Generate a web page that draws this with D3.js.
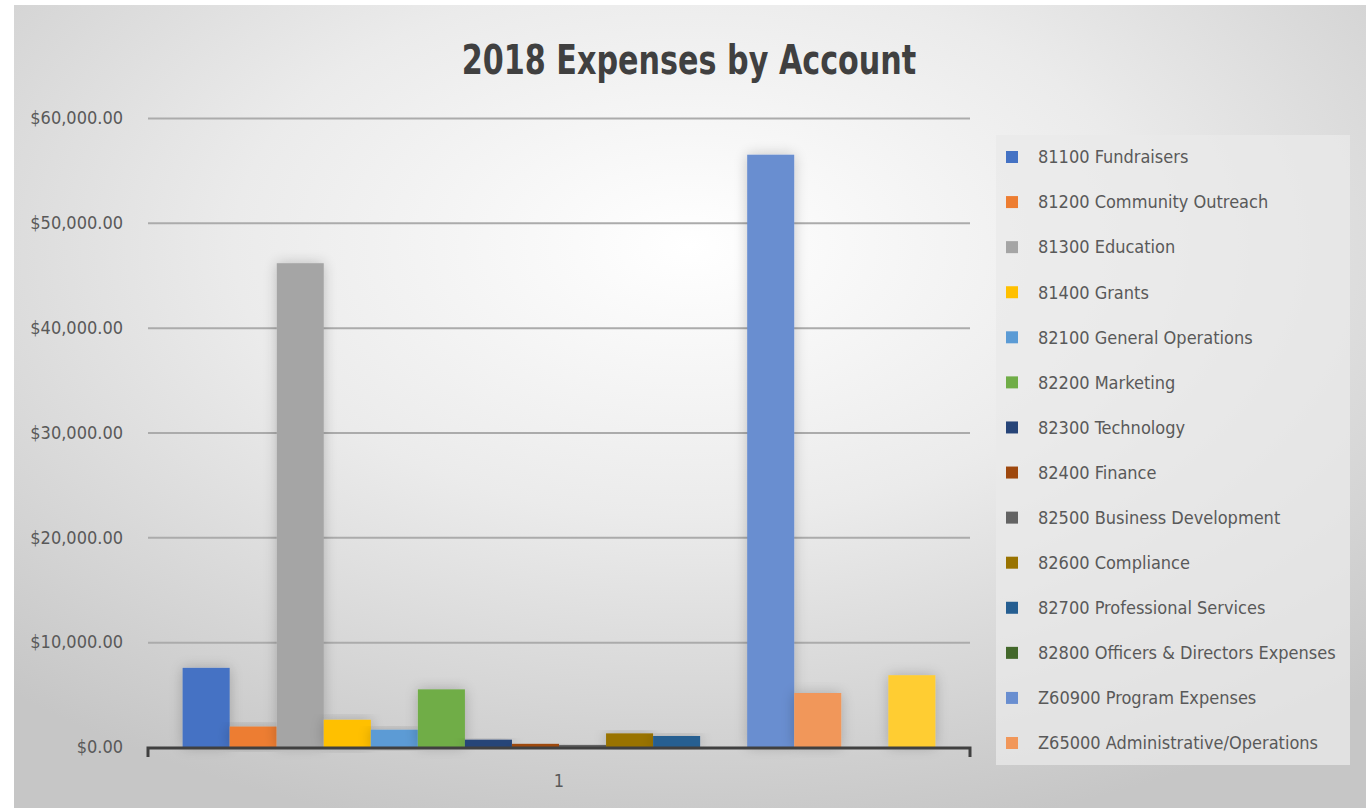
<!DOCTYPE html>
<html>
<head>
<meta charset="utf-8">
<script src="https://cdn.jsdelivr.net/npm/d3@7"></script>
<style>
  html, body { margin: 0; padding: 0; background: #ffffff; }
  svg { display: block; }
  text { font-family: "Liberation Sans Narrow", "DejaVu Sans Condensed", "Open Sans", sans-serif; }
</style>
</head>
<body>
<svg id="chart" width="1368" height="808"></svg>
<script>
// ---- data ----
const title = "2018 Expenses by Account";
const categories = ["1"];
const seriesNames = [
  "81100 Fundraisers",
  "81200 Community Outreach",
  "81300 Education",
  "81400 Grants",
  "82100 General Operations",
  "82200 Marketing",
  "82300 Technology",
  "82400 Finance",
  "82500 Business Development",
  "82600 Compliance",
  "82700 Professional Services",
  "82800 Officers & Directors Expenses",
  "Z60900 Program Expenses",
  "Z65000 Administrative/Operations",
  "",   // series 15 (legend entry cut off in the original)
  ""    // series 16 (legend entry cut off in the original)
];
const seriesValues = [7550, 1950, 46150, 2600, 1650, 5500, 700, 300, 200, 1300, 1050, 0, 56500, 5150, 0, 6850];
const seriesColors = ["#4472c4", "#ed7d31", "#a5a5a5", "#ffc000", "#5b9bd5", "#70ad47",
                      "#264478", "#9e480e", "#636363", "#997300", "#255e91", "#43682b",
                      "#698ed0", "#f1975a", "#b7b7b7", "#ffcd33"];
const yTicks = [0, 10000, 20000, 30000, 40000, 50000, 60000];
const legendCount = 14;

// ---- layout ----
const svg = d3.select("#chart");
const area = { x: 14, y: 5, w: 1352, h: 803 };
const plot = { left: 148, right: 970, top: 118, bottom: 747 };

const defs = svg.append("defs");
const grad = defs.append("radialGradient").attr("id", "bg")
  .attr("cx", "0.5").attr("cy", "0.3").attr("r", "0.75");
grad.append("stop").attr("offset", "0%").attr("stop-color", "#ffffff");
grad.append("stop").attr("offset", "45%").attr("stop-color", "#ebebeb");
grad.append("stop").attr("offset", "100%").attr("stop-color", "#c6c6c6");

const shadow = defs.append("filter").attr("id", "shadow")
  .attr("x", "-50%").attr("y", "-20%").attr("width", "200%").attr("height", "140%");
shadow.append("feGaussianBlur").attr("in", "SourceAlpha").attr("stdDeviation", 7).attr("result", "b");
shadow.append("feComponentTransfer").attr("in", "b").attr("result", "s")
  .append("feFuncA").attr("type", "linear").attr("slope", 0.22);
const m = shadow.append("feMerge");
m.append("feMergeNode").attr("in", "s");
m.append("feMergeNode").attr("in", "SourceGraphic");

svg.append("rect").attr("x", area.x).attr("y", area.y).attr("width", area.w).attr("height", area.h)
  .attr("fill", "url(#bg)");

// title (horizontally condensed to match the narrow original face)
svg.append("text").attr("transform", "translate(689,74) scale(0.84,1)").attr("text-anchor", "middle")
  .attr("font-size", 40).attr("font-weight", "bold").attr("fill", "#404040").text(title);

// scales
const y = d3.scaleLinear().domain([0, 60000]).range([plot.bottom, plot.top]);
const x0 = d3.scaleBand().domain(categories).range([plot.left, plot.right]).paddingInner(0).paddingOuter(0.046);
const x1 = d3.scaleBand().domain(d3.range(seriesValues.length)).range([0, x0.bandwidth()]).padding(0);

// gridlines
const fmt = v => "$" + d3.format(",.2f")(v);
const yAxis = d3.axisLeft(y).tickValues(yTicks).tickSize(-(plot.right - plot.left)).tickFormat(fmt).tickPadding(25);
const gy = svg.append("g").attr("transform", `translate(${plot.left},0)`).call(yAxis);
gy.select(".domain").remove();
gy.selectAll(".tick line").attr("stroke", "#ababab").attr("stroke-width", 2)
  .filter(d => d === 0).remove();
gy.selectAll(".tick text").attr("font-size", 18).attr("fill", "#595959");

// bars
svg.append("g").selectAll("rect").data(seriesValues).join("rect")
  .attr("x", (d, i) => x0(categories[0]) + x1(i))
  .attr("y", d => y(d))
  .attr("width", x1.bandwidth())
  .attr("height", d => plot.bottom - y(d))
  .attr("fill", (d, i) => seriesColors[i])
  .attr("filter", "url(#shadow)");

// x axis line with end ticks
const xAxis = d3.axisBottom(x0).tickSize(0).tickPadding(26);
const gx = svg.append("g").attr("transform", `translate(0,${plot.bottom + 1})`).call(xAxis);
gx.select(".domain").remove();
gx.selectAll(".tick text").attr("font-size", 18).attr("fill", "#595959");
svg.append("path")
  .attr("d", `M${plot.left},${plot.bottom + 10}V${plot.bottom + 1}H${plot.right}V${plot.bottom + 10}`)
  .attr("fill", "none").attr("stroke", "#404040").attr("stroke-width", 3);

// legend
const lg = svg.append("g");
lg.append("rect").attr("x", 996).attr("y", 135).attr("width", 354).attr("height", 630)
  .attr("fill", "#eaeaea").attr("opacity", 0.75);
const ly = d3.scalePoint().domain(d3.range(legendCount)).range([157, 743]);
const items = lg.selectAll("g.item").data(d3.range(legendCount)).join("g")
  .attr("transform", i => `translate(1006,${ly(i)})`);
items.append("rect").attr("x", 0).attr("y", -6).attr("width", 12).attr("height", 12)
  .attr("fill", i => seriesColors[i]);
items.append("text").attr("x", 32).attr("y", 0).attr("dy", "0.35em")
  .attr("font-size", 18).attr("fill", "#595959").text(i => seriesNames[i]);
</script>
</body>
</html>
